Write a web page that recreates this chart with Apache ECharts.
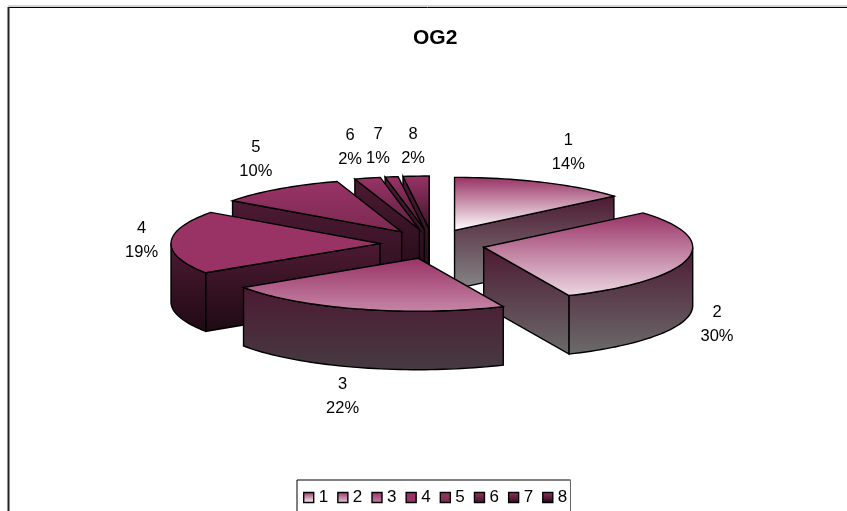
<!DOCTYPE html>
<html>
<head>
<meta charset="utf-8">
<style>html,body{margin:0;padding:0;background:#fff}#c{width:847px;height:511px}</style>
<script src="https://cdn.jsdelivr.net/npm/echarts@6/dist/echarts.min.js"></script>
</head>
<body>
<div id="c"></div>
<script>
const chartTitle = 'OG2';
const categories = ['1', '2', '3', '4', '5', '6', '7', '8'];
// Estimated from the slice boundaries; they round to the printed 14/30/22/19/10/2/1/2 %
const shares = [13.8, 29.5, 22.4, 19.3, 10, 2, 1, 2];

// Look of each slice: gradient end colours of the top face and of the walls
const topStart = '#993366';
const topEnd = ['#ffffff', '#ecd6e2', '#c585a6', '#993366', '#7c2a52', '#5c2040', '#4a1a33', '#3c152a'];
const wallStart = '#4d1a33';
const wallEnd = ['#868686', '#6b6a6a', '#463a42', '#1f0a14', '#2a0f1e', '#1f0a14', '#1f0a14', '#1f0a14'];
const swatchEnd = ['#ffffff', '#e8d0dd', '#c585a6', '#993366', '#7c2a52', '#3c152a', '#2a0e1d', '#1a0912'];

// Projection of the pie
const view = { cx: 432.5, cy: 243.9, rx: 209, ry: 53, depth: 58.5, ex: 52.5, ey: 14.9 };
const drawOrder = [7, 6, 5, 4, 0, 3, 1, 2];
const labelNudge = [[26, -29.5], [29.5, 66], [-17, 87], [-29.5, -2.4], [-23, -30], [-17.4, -31], [-13.6, -30.3], [-3, -30]];

const total = shares.reduce((a, b) => a + b, 0);
const TAU = Math.PI * 2;
const startAngles = [];
shares.reduce((acc, v, i) => { startAngles[i] = acc; return acc + v / total * TAU; }, 0);

function rimPoint(ax, ay, ang, dz) {
  return [ax + view.rx * Math.sin(ang), ay - view.ry * Math.cos(ang) + dz];
}
function arc(ax, ay, a0, a1, dz) {
  const n = Math.max(2, Math.ceil(Math.abs(a1 - a0) / 0.03));
  const pts = [];
  for (let k = 0; k <= n; k++) pts.push(rimPoint(ax, ay, a0 + (a1 - a0) * k / n, dz));
  return pts;
}
function vGrad(y0, y1, c0, c1) {
  return new echarts.graphic.LinearGradient(0, y0, 0, y1, [{ offset: 0, color: c0 }, { offset: 1, color: c1 }], true);
}

function sliceRenderer(i) {
  return function (params, api) {
    const value = api.value(0);
    const a0 = startAngles[i];
    const a1 = a0 + value / total * TAU;
    const mid = (a0 + a1) / 2;
    const ax = view.cx + view.ex * Math.sin(mid);
    const ay = view.cy - view.ey * Math.cos(mid);
    const d = view.depth;
    const topArc = arc(ax, ay, a0, a1, 0);
    const topFace = [[ax, ay]].concat(topArc);
    const ys = topFace.map(p => p[1]);
    const minY = Math.min.apply(null, ys);
    const maxY = Math.max.apply(null, ys);

    const children = [];
    const stroke = { stroke: '#000', lineWidth: 1.4, lineJoin: 'miter' };
    const wallPolys = [];
    const p0 = rimPoint(ax, ay, a0, 0);
    const p1 = rimPoint(ax, ay, a1, 0);
    if (Math.sin(a0) < 0) wallPolys.push([[ax, ay], p0, [p0[0], p0[1] + d], [ax, ay + d]]);
    if (Math.sin(a1) > 0) wallPolys.push([[ax, ay], p1, [p1[0], p1[1] + d], [ax, ay + d]]);
    const f0 = Math.max(a0, Math.PI / 2), f1 = Math.min(a1, Math.PI * 3 / 2);
    if (f1 > f0) {
      wallPolys.push(arc(ax, ay, f0, f1, 0).concat(arc(ax, ay, f1, f0, d)));
    }
    let wMin = Infinity, wMax = -Infinity;
    wallPolys.forEach(p => p.forEach(q => { wMin = Math.min(wMin, q[1]); wMax = Math.max(wMax, q[1]); }));
    const wallFill = vGrad(wMin, wMax, wallStart, wallEnd[i]);
    wallPolys.forEach(points => {
      children.push({ type: 'polygon', shape: { points }, style: Object.assign({ fill: wallFill }, stroke) });
    });
    children.push({
      type: 'polygon',
      shape: { points: topFace },
      style: Object.assign({ fill: vGrad(minY, maxY, topStart, topEnd[i]) }, stroke)
    });

    const rp = rimPoint(ax, ay, mid, 0);
    const nudge = labelNudge[i];
    children.push({
      type: 'text',
      style: {
        text: categories[i] + '\n' + Math.round(value) + '%',
        x: rp[0] + nudge[0], y: rp[1] + nudge[1],
        align: 'center', verticalAlign: 'middle',
        fill: '#000', font: '16.5px "Liberation Sans", Arial, sans-serif', lineHeight: 24
      }
    });
    return { type: 'group', children };
  };
}

const series = categories.map((name, i) => ({
  type: 'custom',
  name,
  coordinateSystem: 'none',
  z: 2 + drawOrder.indexOf(i),
  silent: true,
  animation: false,
  clip: false,
  data: [[shares[i]]],
  itemStyle: { color: topStart },
  renderItem: sliceRenderer(i)
}));

const chart = echarts.init(document.getElementById('c'), null, { renderer: 'canvas' });
chart.setOption({
  animation: false,
  backgroundColor: '#fff',
  title: {
    text: chartTitle, left: 408, top: 23, textAlign: 'left',
    textStyle: { fontFamily: '"Liberation Sans", Arial, sans-serif', fontWeight: 'bold', fontSize: 21, color: '#000' }
  },
  legend: {
    left: 297, top: 485, padding: [4, 6, 5, 6],
    orient: 'horizontal', icon: 'rect',
    itemWidth: 10, itemHeight: 10, itemGap: 9,
    textStyle: { fontFamily: '"Liberation Sans", Arial, sans-serif', fontSize: 17, color: '#000' },
    selectedMode: false,
    data: categories.map((name, i) => ({
      name, icon: 'rect',
      itemStyle: {
        color: new echarts.graphic.LinearGradient(0, 0, 0, 1, [{ offset: 0, color: topStart }, { offset: 1, color: swatchEnd[i] }]),
        borderColor: '#000', borderWidth: 1.4
      }
    }))
  },
  graphic: { elements: [
    { type: 'line', silent: true, z: 0, shape: { x1: 8, y1: 6, x2: 847, y2: 6 }, style: { stroke: '#aaa', lineWidth: 1 } },
    { type: 'line', silent: true, z: 0, shape: { x1: 8, y1: 7.5, x2: 847, y2: 7.5 }, style: { stroke: '#000', lineWidth: 1 } },
    { type: 'line', silent: true, z: 0, shape: { x1: 8.5, y1: 7, x2: 8.5, y2: 511 }, style: { stroke: '#222', lineWidth: 2 } },
    { type: 'line', silent: true, z: 0, shape: { x1: 297, y1: 480, x2: 570.5, y2: 480 }, style: { stroke: '#808080', lineWidth: 2 } },
    { type: 'line', silent: true, z: 0, shape: { x1: 297, y1: 480, x2: 297, y2: 511 }, style: { stroke: '#000', lineWidth: 1 } },
    { type: 'line', silent: true, z: 0, shape: { x1: 570.5, y1: 480, x2: 570.5, y2: 511 }, style: { stroke: '#666', lineWidth: 1 } }
  ] },
  series
});
</script>
</body>
</html>
